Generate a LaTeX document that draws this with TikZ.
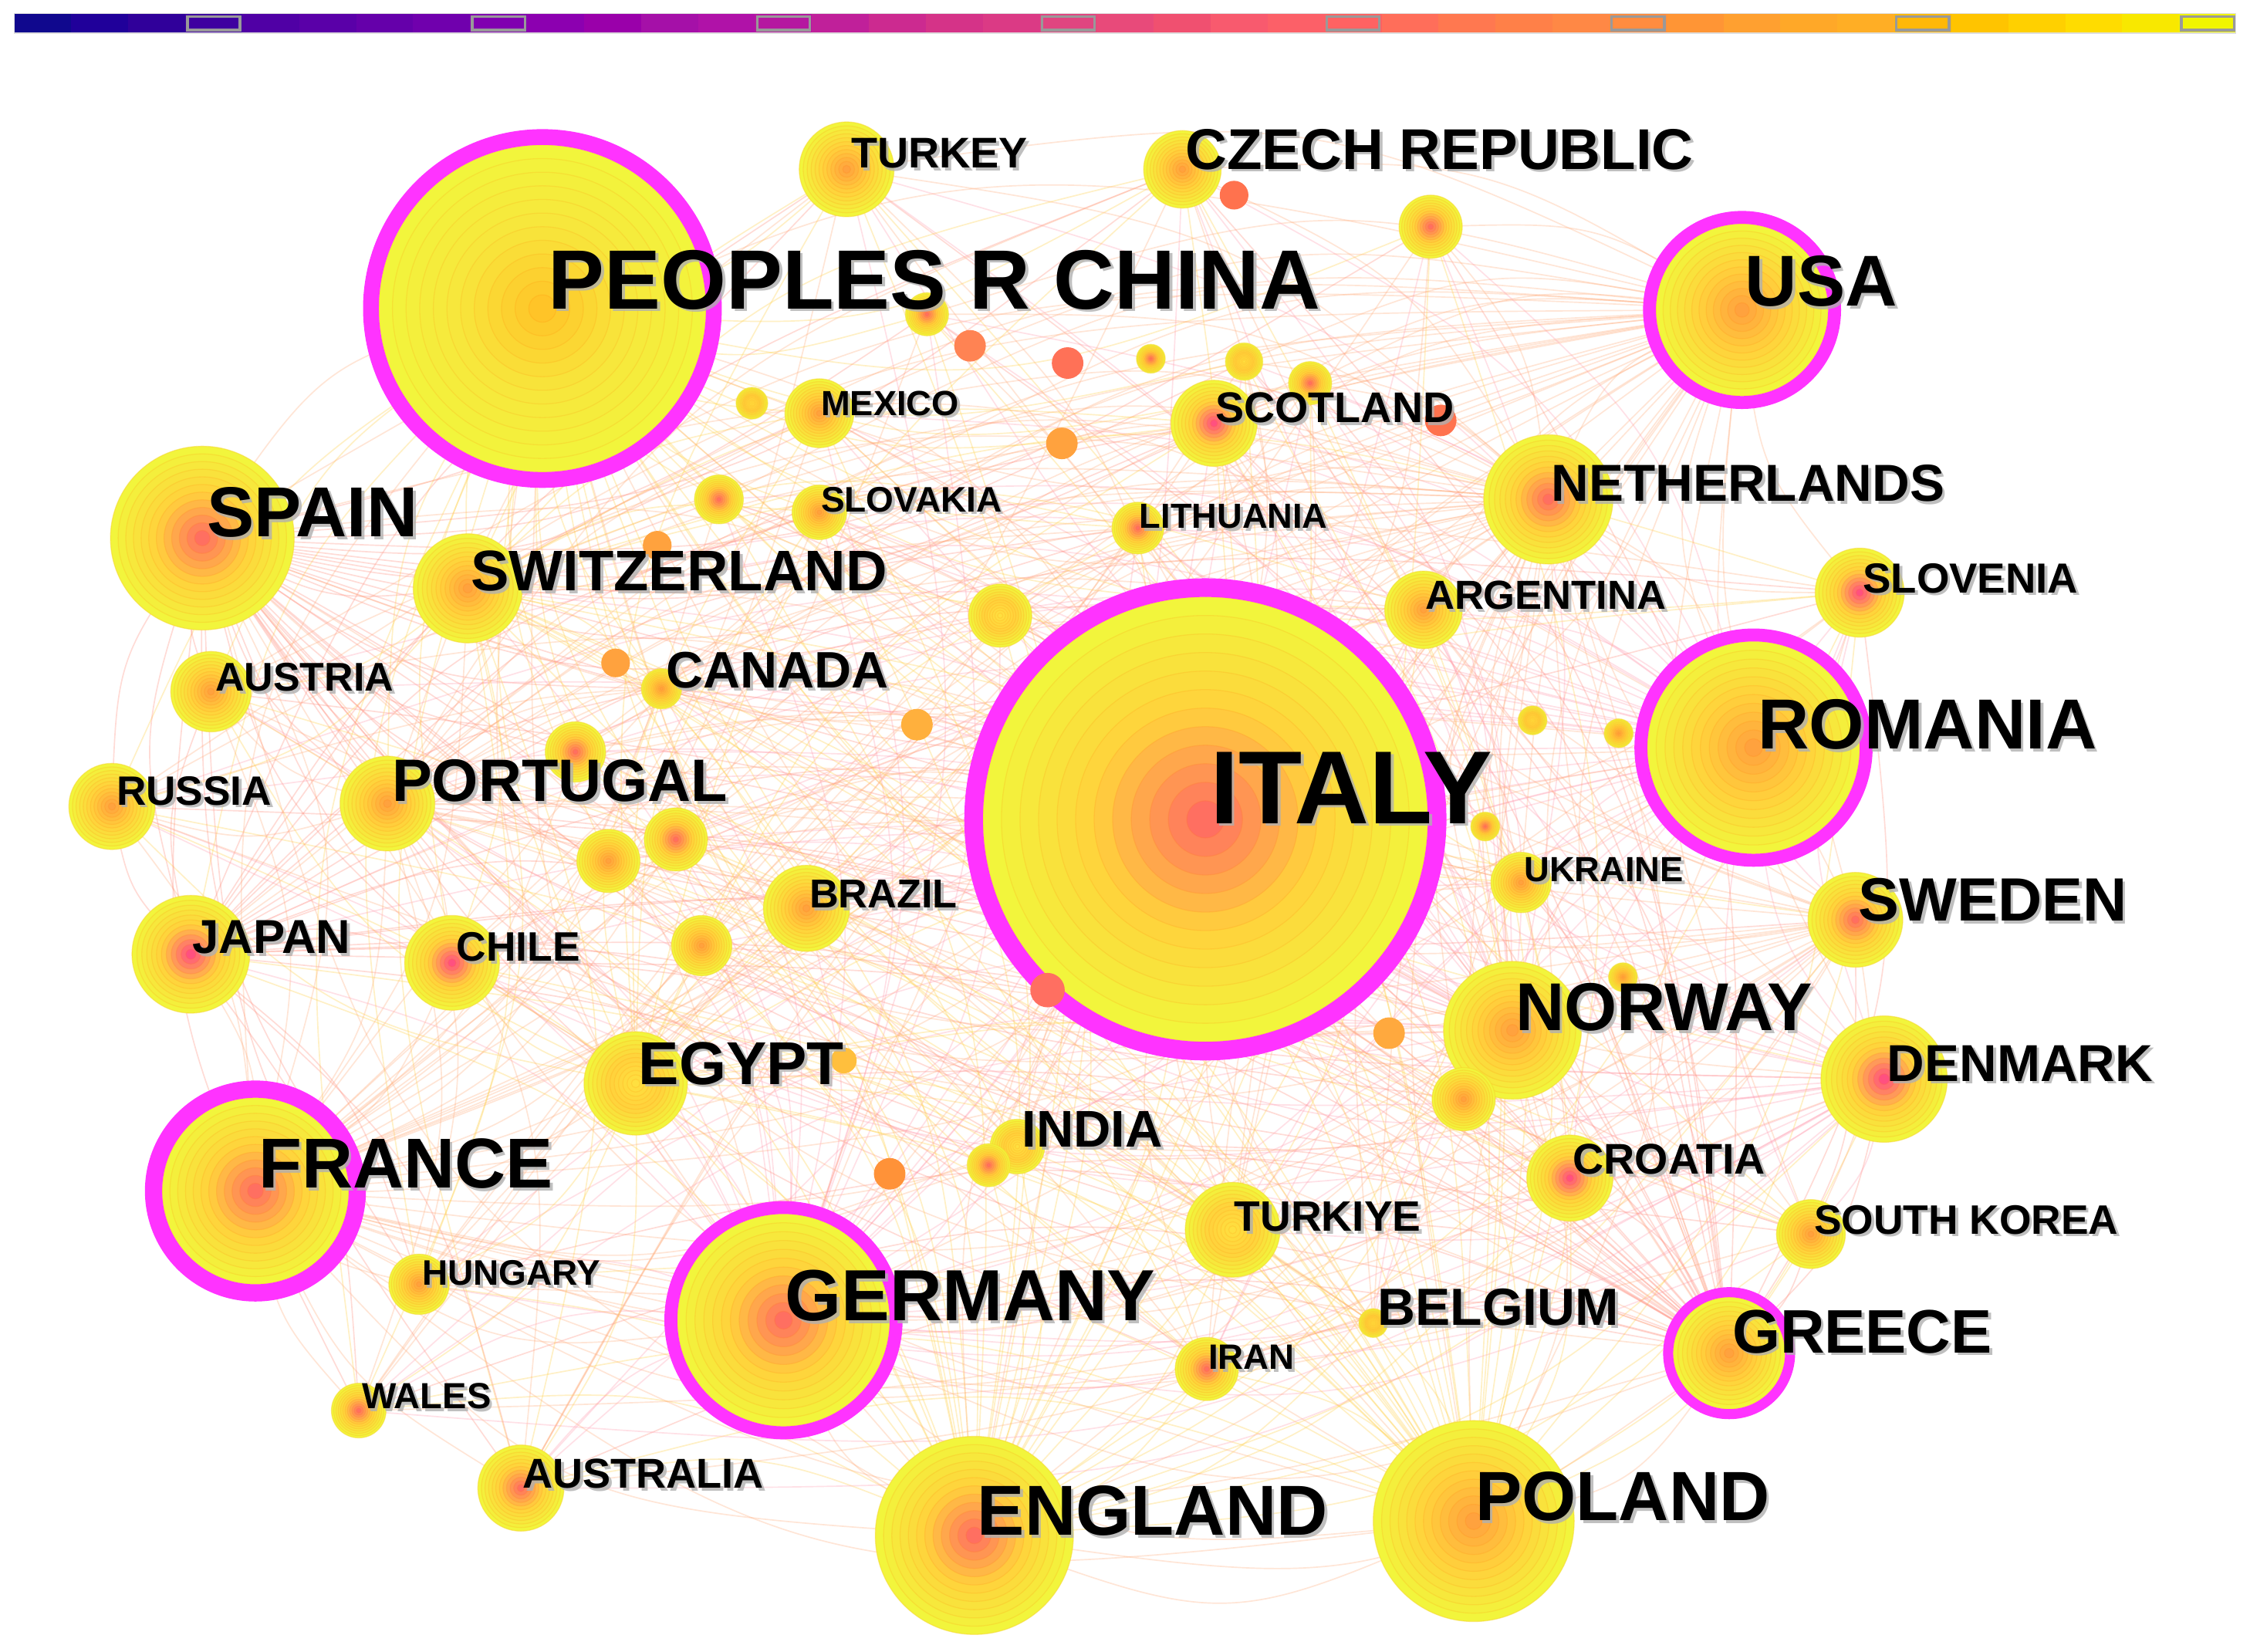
\documentclass[tikz,border=0pt]{standalone}
\usepackage{fontspec}
\setmainfont{Liberation Sans}
\usepackage{graphicx}
\usetikzlibrary{calc}
\definecolor{ylw}{HTML}{F2F53C}
\definecolor{gold}{HTML}{FFD23C}
\definecolor{hot}{HTML}{FF6F61}
\definecolor{hotm}{HTML}{FF5080}
\definecolor{warm}{HTML}{FFA23E}
\definecolor{pale}{HTML}{FFE040}
\definecolor{chn}{HTML}{FFC428}
\definecolor{mag}{HTML}{FF33FF}
\definecolor{shd}{HTML}{B0B0B0}
\definecolor{eO}{HTML}{FFB080}
\definecolor{eP}{HTML}{FFA0B4}
\definecolor{eY}{HTML}{FFD24C}
\definecolor{eR}{HTML}{FF9282}
\newcommand\tring[3]{%
  \foreach \k in {12,11,...,1}{%
    \pgfmathsetmacro\ringr{#2*\k/12}%
    \pgfmathtruncatemacro\ringt{(12-\k)*100/11}%
    \ifnum\ringt<50
      \pgfmathtruncatemacro\ringp{2*\ringt}%
      \colorlet{rc}{gold!\ringp!ylw}%
    \else
      \pgfmathtruncatemacro\ringp{2*\ringt-100}%
      \colorlet{rc}{#3!\ringp!gold}%
    \fi
    \fill[rc] (#1) circle[radius=\ringr];
    \draw[rc!75!orange, line width=0.7pt, opacity=0.55] (#1) circle[radius=\ringr];
  }}
\newcommand\mring[3]{\draw[mag, line width=#3pt] (#1) circle[radius=#2+#3/2];}
\newcommand\lab[5]{%
  \node[anchor=west, inner sep=0pt, text=shd, opacity=0.8] (sh-#1) at (#2+2,#3+2) {\resizebox{#4pt}{!}{\fontsize{40}{40}\selectfont\bfseries #5}};
  \node[anchor=west, inner sep=0pt] (lb-#1) at (#2,#3) {\resizebox{#4pt}{!}{\fontsize{40}{40}\selectfont\bfseries #5}};}
\newcommand\arcedge[4]{\draw[#1] (#2) .. controls ($(#2)!0.5!(#3)!#4!-90:(#3)$) .. (#3);}
\begin{document}
\begin{tikzpicture}[x=1pt,y=-1pt]
\fill[white] (0,0) rectangle (1568,1151);
\useasboundingbox (0,0) rectangle (1568,1151);
% colour bar
\foreach \c [count=\i from 0] in {10088E,20009A,30009A,3E00A0,5000A5,5A00A8,6500AA,7000AD,8000B0,8C00B0,9A00AA,A510A8,B012A8,B518A0,C0209A,CC2A90,D53388,DB3A85,E04580,E84A7A,F05070,F85A6E,FC6068,FF6262,FF6E5A,FF7850,FF8048,FF8845,FF8C40,FF9535,FFA030,FFA828,FFAE25,FFB808,FFC400,FFD000,FFDC00,F8E800,F0F500}{
  \edef\tmp{\noexpand\definecolor{bc}{HTML}{\c}}\tmp
  \pgfmathsetmacro\bx{10+39.7*\i}
  \fill[bc] (\bx,9.5) rectangle (\bx+39.8,23);
}
\draw[gray!25, line width=0.8pt] (10,9.5) rectangle (1558,23);
\foreach \i in {3,8,13,18,23,28,33,38}{
  \pgfmathsetmacro\bx{10+39.7*\i}
  \draw[gray!80, line width=1.8pt] (\bx+1.5,11.5) rectangle (\bx+38.2,21);
}
% node coordinates
\coordinate (china) at (378,215);
\coordinate (italy) at (840,571);
\coordinate (usa) at (1214,216);
\coordinate (romania) at (1222,521);
\coordinate (france) at (178,830);
\coordinate (germany) at (546,920);
\coordinate (greece) at (1205,943);
\coordinate (spain) at (141,375);
\coordinate (england) at (679,1070);
\coordinate (poland) at (1027,1060);
\coordinate (netherlands) at (1079,348);
\coordinate (norway) at (1054,718);
\coordinate (denmark) at (1313,752);
\coordinate (sweden) at (1293,641);
\coordinate (switzerland) at (326,410);
\coordinate (portugal) at (270,560);
\coordinate (japan) at (133,665);
\coordinate (egypt) at (443,755);
\coordinate (chile) at (315,671);
\coordinate (russia) at (78,562);
\coordinate (austria) at (147,482);
\coordinate (turkey) at (590,118);
\coordinate (czech) at (824,118);
\coordinate (scotland) at (846,295);
\coordinate (mexico) at (571,288);
\coordinate (slovakia) at (571,357);
\coordinate (lithuania) at (793,368);
\coordinate (canada) at (461,480);
\coordinate (argentina) at (992,425);
\coordinate (slovenia) at (1296,413);
\coordinate (ukraine) at (1060,615);
\coordinate (brazil) at (562,633);
\coordinate (india) at (709,799);
\coordinate (croatia) at (1094,821);
\coordinate (turkiye) at (859,857);
\coordinate (southkorea) at (1262,860);
\coordinate (belgium) at (957,922);
\coordinate (iran) at (841,954);
\coordinate (hungary) at (292,895);
\coordinate (wales) at (250,983);
\coordinate (australia) at (363,1037);
\coordinate (s1) at (997,158);
\coordinate (s2) at (860,136);
\coordinate (s3) at (646,219);
\coordinate (s4) at (676,241);
\coordinate (s5) at (744,253);
\coordinate (s6) at (802,250);
\coordinate (s7) at (867,252);
\coordinate (s8) at (913,267);
\coordinate (s9) at (1004,293);
\coordinate (s10) at (524,281);
\coordinate (s11) at (740,309);
\coordinate (s12) at (501,348);
\coordinate (s13) at (458,380);
\coordinate (s14) at (697,429);
\coordinate (s15) at (429,462);
\coordinate (s16) at (401,524);
\coordinate (s17) at (471,585);
\coordinate (s18) at (424,600);
\coordinate (s19) at (489,659);
\coordinate (s20) at (639,505);
\coordinate (s21) at (730,690);
\coordinate (s22) at (968,720);
\coordinate (s23) at (1020,766);
\coordinate (s24) at (1068,502);
\coordinate (s25) at (1128,511);
\coordinate (s26) at (1035,576);
\coordinate (s27) at (1131,681);
\coordinate (s28) at (689,812);
\coordinate (s29) at (620,818);
\coordinate (s30) at (588,739);
% connectors
\begin{scope}[line width=0.9pt, draw opacity=0.32]
\foreach \a/\c in {italy/eO, china/eY, usa/eO, romania/eP, france/eO, germany/eP, spain/eR, england/eY, poland/eY, netherlands/eO, norway/eP, greece/eR}{
  \foreach \b in {denmark,sweden,switzerland,portugal,japan,egypt,chile,russia,austria,turkey,czech,scotland,mexico,slovakia,lithuania,canada,argentina,slovenia,ukraine,brazil,india,croatia,turkiye,southkorea,belgium,iran,hungary,wales,australia,s1,s3,s7,s8,s12,s14,s16,s17,s18,s19,s23,s28}{
    \arcedge{\c}{\a}{\b}{0.3}
  }}
\foreach \a/\c in {switzerland/eY, portugal/eO, denmark/eP, sweden/eO, egypt/eY, japan/eR}{
  \foreach \b in {chile,russia,austria,turkey,czech,scotland,mexico,slovakia,lithuania,canada,argentina,slovenia,ukraine,brazil,india,croatia,turkiye,southkorea,belgium,iran,hungary,wales,australia}{
    \arcedge{\c}{\a}{\b}{-0.3}
  }}
\foreach \a/\b in {italy/china, italy/usa, italy/romania, italy/france, italy/germany, italy/spain, italy/england, italy/poland, italy/netherlands, italy/norway, italy/greece,
china/usa, china/romania, china/france, china/germany, china/spain, china/england, china/poland, china/netherlands, china/norway, china/greece,
usa/romania, usa/france, usa/germany, usa/spain, usa/england, usa/poland, usa/netherlands, usa/norway, usa/greece,
romania/france, romania/germany, romania/spain, romania/england, romania/poland, romania/netherlands, romania/norway, romania/greece,
france/germany, france/spain, france/england, france/poland, france/netherlands, france/norway, france/greece,
germany/spain, germany/england, germany/poland, germany/netherlands, germany/norway, germany/greece,
spain/england, spain/poland, spain/netherlands, spain/norway, spain/greece,
england/poland, england/netherlands, england/norway, england/greece,
poland/netherlands, poland/norway, poland/greece,
netherlands/norway, netherlands/greece, norway/greece}{
  \arcedge{eO}{\a}{\b}{0.4}
}
\end{scope}
% nodes
\tring{italy}{155}{hot}\mring{italy}{155}{13}
\begin{scope}
\colorlet{gold}{ylw!55!gold}
\tring{china}{114}{chn}
\end{scope}
\mring{china}{114}{11}
\tring{usa}{60}{warm}\mring{usa}{60}{9}
\tring{romania}{74}{warm}\mring{romania}{74}{9}
\tring{france}{65}{hot}\mring{france}{65}{12}
\tring{germany}{74}{hot}\mring{germany}{74}{9}
\tring{greece}{39}{warm}\mring{greece}{39}{7}
\tring{spain}{64}{hot}
\tring{england}{69}{hot}
\tring{poland}{70}{warm}
\tring{netherlands}{45}{hot}
\tring{norway}{48}{warm}
\tring{denmark}{44}{hotm}
\tring{sweden}{33}{hot}
\tring{switzerland}{38}{warm}
\tring{portugal}{33}{warm}
\tring{japan}{41}{hotm}
\tring{egypt}{36}{pale}
\tring{chile}{33}{hotm}
\tring{russia}{30}{warm}
\tring{austria}{28}{warm}
\tring{turkey}{33}{warm}
\tring{czech}{27}{warm}
\tring{scotland}{30}{hotm}
\tring{mexico}{24}{warm}
\tring{slovakia}{19}{warm}
\tring{lithuania}{18}{hot}
\tring{canada}{14}{warm}
\tring{argentina}{27}{warm}
\tring{slovenia}{31}{hotm}
\tring{ukraine}{21}{warm}
\tring{brazil}{30}{warm}
\tring{india}{19}{pale}
\tring{croatia}{30}{hotm}
\tring{turkiye}{33}{pale}
\tring{southkorea}{24}{warm}
\tring{belgium}{10}{pale}
\tring{iran}{22}{hot}
\tring{hungary}{21}{warm}
\tring{wales}{19}{hot}
\tring{australia}{30}{hot}
% small unlabeled nodes
\tring{s1}{22}{hot}
\fill[hot!80!orange] (s2) circle[radius=10];
\tring{s3}{15}{hot}
\fill[hot!60!warm] (s4) circle[radius=11];
\fill[hot!90!orange] (s5) circle[radius=11];
\tring{s6}{10}{hot}
\tring{s7}{13}{pale}
\tring{s8}{15}{hot}
\fill[hot!80!orange] (s9) circle[radius=11];
\tring{s10}{11}{pale}
\fill[warm] (s11) circle[radius=11];
\tring{s12}{17}{hot}
\fill[warm] (s13) circle[radius=10];
\tring{s14}{22}{pale}
\fill[warm] (s15) circle[radius=10];
\tring{s16}{21}{hot}
\tring{s17}{22}{hot}
\tring{s18}{22}{warm}
\tring{s19}{21}{warm}
\fill[warm!70!gold] (s20) circle[radius=11];
\fill[hot] (s21) circle[radius=12];
\fill[warm!85!gold] (s22) circle[radius=11];
\tring{s23}{22}{warm}
\tring{s24}{10}{pale}
\tring{s25}{10}{warm}
\tring{s26}{10}{hot}
\tring{s27}{10}{warm}
\tring{s28}{15}{hot}
\fill[warm!90!red] (s29) circle[radius=11];
\fill[warm!40!gold] (s30) circle[radius=9];
% labels
\lab{china}{382}{195}{538}{PEOPLES R CHINA}
\lab{italy}{843}{549}{197}{ITALY}
\lab{usa}{1216}{196}{106}{USA}
\lab{romania}{1225}{505}{236}{ROMANIA}
\lab{france}{180}{811}{205}{FRANCE}
\lab{germany}{547}{903}{258}{GERMANY}
\lab{greece}{1207}{928}{181}{GREECE}
\lab{spain}{144}{357}{147}{SPAIN}
\lab{england}{681}{1053}{244}{ENGLAND}
\lab{poland}{1028}{1043}{205}{POLAND}
\lab{netherlands}{1081}{337}{274}{NETHERLANDS}
\lab{norway}{1056}{702}{207}{NORWAY}
\lab{denmark}{1315}{741}{185}{DENMARK}
\lab{sweden}{1295}{627}{187}{SWEDEN}
\lab{switzerland}{328}{398}{290}{SWITZERLAND}
\lab{portugal}{273}{544}{234}{PORTUGAL}
\lab{japan}{134}{653}{110}{JAPAN}
\lab{egypt}{445}{741}{143}{EGYPT}
\lab{chile}{318}{660}{86}{CHILE}
\lab{russia}{81}{551}{108}{RUSSIA}
\lab{austria}{150}{472}{124}{AUSTRIA}
\lab{turkey}{593}{107}{123}{TURKEY}
\lab{czech}{826}{104}{354}{CZECH REPUBLIC}
\lab{scotland}{847}{284}{166}{SCOTLAND}
\lab{mexico}{572}{281}{96}{MEXICO}
\lab{slovakia}{572}{348}{126}{SLOVAKIA}
\lab{lithuania}{794}{360}{131}{LITHUANIA}
\lab{canada}{464}{467}{155}{CANADA}
\lab{argentina}{993}{415}{168}{ARGENTINA}
\lab{slovenia}{1298}{403}{150}{SLOVENIA}
\lab{ukraine}{1062}{606}{111}{UKRAINE}
\lab{brazil}{564}{623}{103}{BRAZIL}
\lab{india}{712}{787}{98}{INDIA}
\lab{croatia}{1096}{808}{134}{CROATIA}
\lab{turkiye}{860}{848}{130}{TURKIYE}
\lab{southkorea}{1264}{850}{212}{SOUTH KOREA}
\lab{belgium}{960}{911}{168}{BELGIUM}
\lab{iran}{842}{946}{60}{IRAN}
\lab{hungary}{294}{887}{124}{HUNGARY}
\lab{wales}{252}{973}{90}{WALES}
\lab{australia}{364}{1027}{168}{AUSTRALIA}
\end{tikzpicture}
\end{document}
